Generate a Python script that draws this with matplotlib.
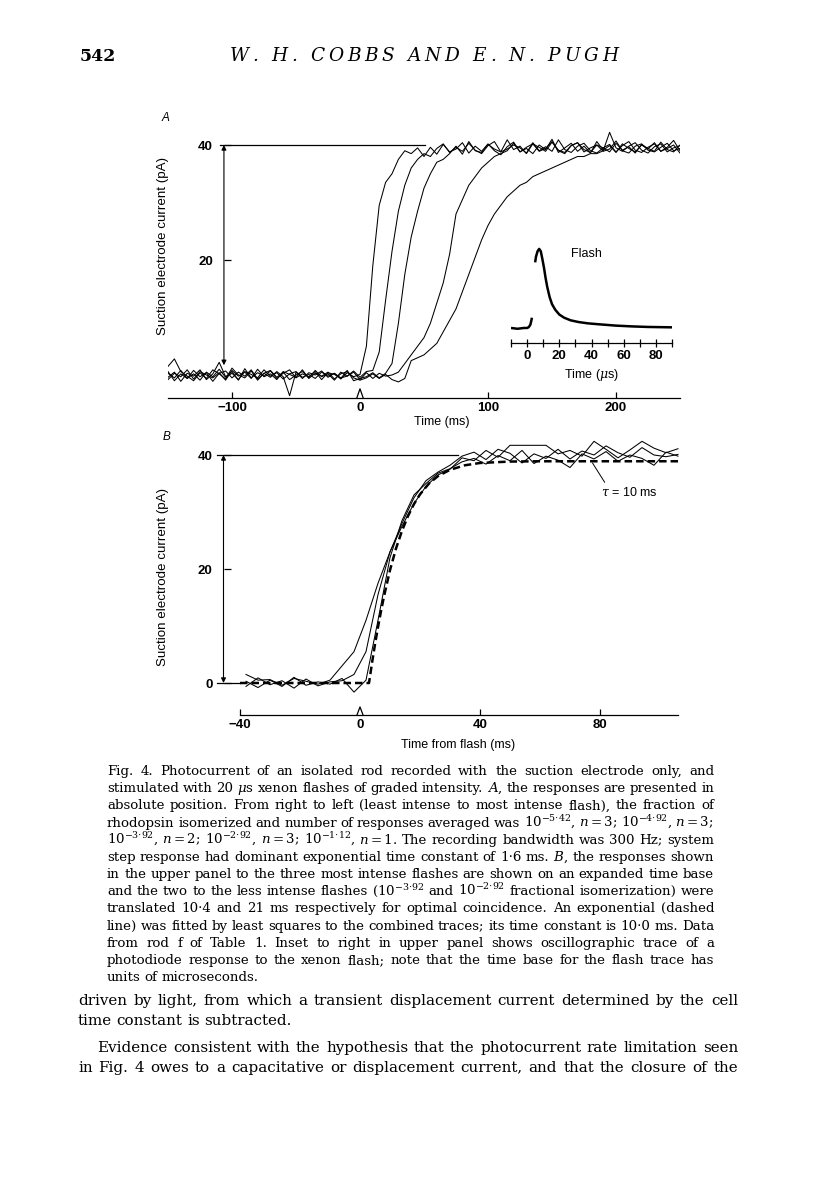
import numpy as np
import matplotlib
matplotlib.use("Agg")
import matplotlib.pyplot as plt
from matplotlib.transforms import IdentityTransform

W, H = 816, 1181
SANS = ["Liberation Sans", "DejaVu Sans"]
SERIF = ["DejaVu Serif"]
plt.rcParams["font.family"] = SANS
plt.rcParams["mathtext.fontset"] = "dejavuserif"

# ---- panel A: five flash responses, sampled every 5 ms from -150 ms ----
a_t0, a_dt = -150, 5
trace_a1 = [0.3, -0.5, 0.8, -0.6, 0.2, -0.9, 0.5, -0.3, 1.0, -0.4, 0.3, -0.8, 0.6, 0.1, -0.5, 0.9,
            -0.2, 0.4, -0.7, 0.2, 0.6, -0.4, 0.1, -0.6, 0.5, -0.2, 0.3, -0.7, 0.4, -0.3, 0.1,
            5.0, 19.0, 29.5, 33.5, 35.0, 37.5, 39.0, 38.5, 39.5, 38.0, 39.6, 38.4, 40.1, 38.8, 39.3,
            40.4, 38.6, 39.8, 38.9, 40.2, 39.0, 38.3, 39.7, 40.5, 38.8, 39.4, 38.5, 40.0, 39.2, 41.0,
            38.7, 39.5, 40.3, 38.9, 39.8, 38.6, 40.6, 39.1, 39.9, 38.7, 40.2, 39.4, 38.8, 40.0, 39.3,
            40.4, 38.9, 39.6, 40.8, 39.0]
trace_a2 = [1.5, 2.8, 0.6, -0.2, -1.0, 0.4, -0.6, 0.9, 0.2, -0.7, 1.2, 0.0, -0.5, 0.7, -0.9, 0.3,
            0.8, -0.4, 0.5, -0.8, 0.0, 0.6, -0.5, 0.8, -0.3, 0.2, -0.9, 0.5, -0.2, 0.7, -0.4,
            0.6, 0.8, 4.0, 13.0, 21.5, 28.5, 33.0, 36.0, 37.5, 38.5, 38.0, 39.4, 40.2, 38.7, 39.6,
            38.9, 40.3, 39.1, 38.5, 39.9, 40.6, 38.8, 39.3, 40.0, 39.5, 38.6, 40.4, 39.0, 39.7, 38.9,
            40.9, 39.2, 38.7, 39.8, 40.3, 39.0, 38.6, 39.5, 40.1, 38.8, 39.9, 40.6, 39.1, 38.7, 39.6,
            40.2, 38.9, 39.4, 40.0, 38.6]
trace_a3 = [-0.4, 0.5, -1.1, 0.3, -0.2, 0.9, -0.8, 0.2, 2.2, -0.3, 0.6, -0.9, 1.1, -0.5, 0.4, -0.2,
            0.7, -0.6, 0.3, 0.9, -0.5, 0.2, -0.3, 0.6, -0.8, 0.4, 0.1, -0.6, 0.8, -1.0, -0.6,
            -0.3, 0.4, -0.5, 0.3, 2.0, 9.0, 17.5, 24.0, 28.5, 32.5, 35.0, 37.0, 37.5, 38.5, 39.8,
            38.4, 40.6, 39.0, 38.7, 40.1, 39.3, 38.8, 40.9, 39.2, 39.8, 38.5, 40.2, 39.6, 38.9, 40.5,
            39.1, 38.7, 39.9, 40.4, 38.8, 39.5, 40.0, 38.9, 39.3, 40.7, 39.0, 38.6, 39.8, 40.2, 39.1,
            38.8, 39.6, 40.3, 39.0, 39.4]
trace_a4 = [0.6, -1.0, 0.2, -0.6, 0.8, -0.3, 0.4, -1.1, 0.3, 0.7, -0.5, 0.5, -0.2, 0.9, -0.7, 0.3,
            -0.4, 0.6, -0.3, -3.6, 0.5, -0.6, 0.4, 0.0, 0.7, -0.4, 0.3, -0.5, -0.2, 0.5, -0.8,
            0.4, -0.6, 0.3, -0.2, 0.0, 0.5, 2.0, 3.5, 5.0, 6.5, 9.0, 12.5, 16.0, 21.0, 28.0,
            30.5, 33.0, 34.5, 36.0, 37.0, 38.0, 38.5, 39.0, 40.3, 38.8, 39.6, 40.2, 38.9, 39.4, 40.6,
            39.0, 38.5, 39.9, 40.4, 39.2, 38.7, 40.0, 39.5, 38.8, 40.3, 39.1, 39.7, 38.6, 40.1, 39.4,
            38.9, 40.5, 39.2, 38.8, 40.0]
trace_a5 = [-0.8, 0.3, -0.3, 0.9, -0.7, 0.6, 0.0, -0.5, 0.4, -0.9, 0.8, -0.2, 0.5, -0.6, 1.0, -0.3,
            0.2, -0.8, 0.6, 0.1, -0.4, 0.9, -0.6, 0.3, -0.2, 0.5, -0.7, 0.2, 0.6, -0.5, -0.9,
            -0.5, 0.2, -0.6, 0.1, -0.8, -1.2, -0.6, 2.5, 3.0, 3.5, 4.5, 5.5, 7.5, 9.5, 11.5,
            14.5, 17.5, 20.5, 23.5, 26.0, 28.0, 29.5, 31.0, 32.0, 33.0, 33.5, 34.5, 35.0, 35.5, 36.0,
            36.5, 37.0, 37.5, 38.0, 38.0, 38.5, 38.5, 39.0, 42.2, 39.5, 38.9, 39.8, 40.4, 39.1, 38.6,
            39.7, 40.2, 38.8, 39.5, 39.9]

# ---- inset: photodiode flash trace (time in microseconds, arbitrary units) ----
flash_pre_t = [-10, -6, -2, 0, 1, 2, 2.6, 3.0]
flash_pre_y = [0.0, -0.01, 0.0, 0.0, 0.01, 0.04, 0.09, 0.13]
flash_t = [5.0, 5.5, 6.5, 7.5, 8.5, 9.5, 10.5, 11.5, 12.5, 14, 15.5, 17.5, 20, 23, 27, 32, 38, 45,
           55, 65, 75, 90]
flash_y = [0.83, 0.9, 0.97, 1.0, 0.97, 0.87, 0.76, 0.63, 0.52, 0.39, 0.3, 0.23, 0.17, 0.13, 0.097,
           0.075, 0.058, 0.046, 0.03, 0.02, 0.013, 0.008]

# ---- panel B: three aligned responses every 4 ms from -38 ms, plus fitted exponential ----
b_t0, b_dt = -38, 4
trace_b1 = [1.5, 0.5, 0.6, -0.4, 0.8, 0.3, -0.2, 0.5, 3.0, 5.5, 11.0, 17.5, 23.0, 27.5, 31.5, 34.5,
            36.5, 37.5, 39.5, 39.0, 40.8, 39.6, 41.7, 41.7, 41.7, 41.7, 40.2, 40.8, 39.8, 42.4, 41.0,
            39.5, 40.9, 42.4, 41.2, 40.4, 41.1]
trace_b2 = [-0.6, 0.9, -0.3, 0.4, -0.9, 0.7, -0.5, 0.2, 0.4, 1.5, 5.5, 15.5, 23.0, 28.0, 32.5, 35.5,
            37.0, 38.2, 39.8, 40.5, 39.2, 41.0, 40.3, 38.6, 40.2, 39.4, 41.0, 39.3, 40.7, 40.0, 41.6,
            40.4, 39.6, 41.3, 40.0, 39.7, 40.1]
trace_b3 = [0.3, -0.8, 0.5, -0.6, 1.0, -0.4, 0.2, -0.2, 0.8, -1.6, 0.5, 11.0, 22.0, 28.5, 33.0, 35.0,
            36.8, 37.6, 38.8, 39.4, 38.4, 39.9, 39.0, 40.8, 38.5, 39.8, 39.1, 37.8, 40.2, 39.3, 40.6,
            38.9, 40.0, 39.4, 38.2, 40.5, 39.8]
fit_t = [-40, 3, 4, 5, 6, 7, 8, 10, 12, 14, 16, 18, 20, 23, 26, 30, 35, 40, 50, 60, 106]
fit_y = [0, 0, 3.5, 6.8, 9.8, 12.6, 15.2, 19.8, 23.6, 26.7, 29.3, 31.4, 33.1, 35.0, 36.3, 37.4,
         38.2, 38.6, 38.85, 38.9, 38.9]

header_num = "542"
header_authors = "W. H. COBBS AND E. N. PUGH"
caption_lines = [
    "Fig. 4. Photocurrent of an isolated rod recorded with the suction electrode only, and",
    "stimulated with 20 $\\mu$s xenon flashes of graded intensity. $A$, the responses are presented in",
    "absolute position. From right to left (least intense to most intense flash), the fraction of",
    "rhodopsin isomerized and number of responses averaged was $10^{-5{\\cdot}42}$, $n=3$; "
    "$10^{-4{\\cdot}92}$, $n=3$;",
    "$10^{-3{\\cdot}92}$, $n=2$; $10^{-2{\\cdot}92}$, $n=3$; $10^{-1{\\cdot}12}$, $n=1$. The recording "
    "bandwidth was 300 Hz; system",
    "step response had dominant exponential time constant of 1·6 ms. $B$, the responses shown",
    "in the upper panel to the three most intense flashes are shown on an expanded time base",
    "and the two to the less intense flashes ($10^{-3{\\cdot}92}$ and $10^{-2{\\cdot}92}$ fractional "
    "isomerization) were",
    "translated 10·4 and 21 ms respectively for optimal coincidence. An exponential (dashed",
    "line) was fitted by least squares to the combined traces; its time constant is 10·0 ms. Data",
    "from rod f of Table 1. Inset to right in upper panel shows oscillographic trace of a",
    "photodiode response to the xenon flash; note that the time base for the flash trace has",
    "units of microseconds.",
]
body_lines = [
    "driven by light, from which a transient displacement current determined by the cell",
    "time constant is subtracted.",
    "Evidence consistent with the hypothesis that the photocurrent rate limitation seen",
    "in Fig. 4 owes to a capacitative or displacement current, and that the closure of the",
]

fig = plt.figure(figsize=(W / 100, H / 100), dpi=100)
renderer = fig.canvas.get_renderer()


def px_axes(x0, y0, x1, y1):
    """Axes from an image-pixel box (origin top-left)."""
    return fig.add_axes([x0 / W, 1 - y1 / H, (x1 - x0) / W, (y1 - y0) / H])


def px_text(x, y, s, **kw):
    return fig.text(x / W, 1 - y / H, s, **kw)


def place_pieces(pieces, x0, x1, y, size, stretch, **kw):
    """Lay pieces of text left to right on baseline y, spreading the slack evenly."""
    arts = [fig.text(0, 0, p, transform=IdentityTransform(), fontsize=size,
                     family=SERIF, va="baseline", **kw) for p in pieces]
    widths = [a.get_window_extent(renderer).width if p.strip() else size * 100 / 72 * 0.3
              for a, p in zip(arts, pieces)]
    gap = stretch
    if stretch is None and len(pieces) > 1:
        gap = max((x1 - x0 - sum(widths)) / (len(pieces) - 1), 0.5 * size * 100 / 72 * 0.3)
    x = x0
    for a, w in zip(arts, widths):
        a.set_position((x, H - y))
        x += w + gap


def text_line(s, x0, x1, y, size, justify=True, **kw):
    """One line of page text; justified lines are spread across x0..x1."""
    stretch = None if justify else size * 100 / 72 * 0.3
    place_pieces(s.split(" "), x0, x1, y, size, stretch, **kw)


def style_axes(ax, ybase, xleft):
    for s in ("top", "right"):
        ax.spines[s].set_visible(False)
    ax.spines["left"].set_position(("data", xleft))
    ax.spines["left"].set_visible(False)
    ax.spines["bottom"].set_position(("data", ybase))
    ax.spines["bottom"].set_linewidth(0.9)
    ax.tick_params(axis="x", direction="in", length=4, width=0.9, pad=3, labelsize=9.5)
    ax.tick_params(axis="y", direction="in", length=5, width=0.9, pad=8, labelsize=9.5)
    ax.patch.set_visible(False)


# ---- Panel A ----
axA = px_axes(168, 122, 680, 403.75)
for tr in (trace_a1, trace_a2, trace_a3, trace_a4, trace_a5):
    axA.plot(a_t0 + a_dt * np.arange(len(tr)), tr, color="k", lw=0.75)
axA.set_xlim(-150, 250)
axA.set_ylim(-5, 44)
style_axes(axA, -4, -106.3)
axA.set_xticks([-100, 0, 100, 200])
axA.set_yticks([20, 40])
axA.xaxis.get_major_ticks()[1].tick1line.set_visible(False)
plt.setp(axA.get_xticklabels() + axA.get_yticklabels(), fontweight="bold")
axA.plot([-109.4, 51], [40, 40], color="k", lw=0.9)
axA.plot([-2.5, 0, 2.5], [-4, -2.4, -4], color="k", lw=0.9)
axA.annotate("", xy=(-106.3, 40), xytext=(-106.3, 1.7),
             arrowprops=dict(arrowstyle="<|-|>", lw=0.8, color="k", mutation_scale=7,
                             shrinkA=0, shrinkB=0))
px_text(442, 422, "Time (ms)", ha="center", va="center", fontsize=9)
px_text(163, 246, "Suction electrode current (pA)", rotation=90, ha="center", va="center",
        fontsize=9.6)
px_text(166, 118, "A", ha="center", va="center", fontsize=8.5, style="italic")

# ---- Inset ----
axI = px_axes(511, 241, 672, 343)
axI.plot(flash_pre_t, flash_pre_y, color="k", lw=1.8, solid_capstyle="butt")
axI.plot(flash_t, flash_y, color="k", lw=1.8, solid_capstyle="butt")
axI.set_xlim(-10, 90)
axI.set_ylim(-0.19, 1.1)
for s in ("top", "right", "left"):
    axI.spines[s].set_visible(False)
axI.spines["bottom"].set_linewidth(0.9)
inset_ticks = list(range(-10, 91, 10))
axI.set_xticks(inset_ticks, [str(v) if v % 20 == 0 else "" for v in inset_ticks])
axI.set_yticks([])
axI.tick_params(axis="x", direction="inout", length=6, width=0.9, pad=2, labelsize=9.5)
plt.setp(axI.get_xticklabels(), fontweight="bold")
axI.patch.set_visible(False)
px_text(592, 375, "Time ($\\mu$s)", ha="center", va="center", fontsize=9)
px_text(586, 254, "Flash", ha="center", va="center", fontsize=9)

# ---- Panel B ----
axB = px_axes(216, 432.2, 681, 717.2)
for tr in (trace_b1, trace_b2, trace_b3):
    axB.plot(b_t0 + b_dt * np.arange(len(tr)), tr, color="k", lw=0.75)
axB.plot(fit_t, fit_y, color="k", lw=1.8, dashes=(3, 1.6))
axB.set_xlim(-48, 107)
axB.set_ylim(-6, 44)
style_axes(axB, -5.6, -45.5)
axB.spines["bottom"].set_bounds(-40, 106)
axB.set_xticks([-40, 0, 40, 80])
axB.set_yticks([0, 20, 40])
axB.xaxis.get_major_ticks()[1].tick1line.set_visible(False)
plt.setp(axB.get_xticklabels() + axB.get_yticklabels(), fontweight="bold")
axB.plot([-47.7, 32.7], [40, 40], color="k", lw=0.9)
axB.plot([-47.7, -40], [0, 0], color="k", lw=0.9)
axB.plot([-1, 0, 1], [-5.6, -4.2, -5.6], color="k", lw=0.9)
axB.annotate("", xy=(-45.5, 40), xytext=(-45.5, 0),
             arrowprops=dict(arrowstyle="<|-|>", lw=0.8, color="k", mutation_scale=7,
                             shrinkA=0, shrinkB=0))
axB.annotate("$\\tau$ = 10 ms", xy=(77.5, 38.6), xytext=(80.5, 33.4), ha="left", va="center",
             fontsize=9, arrowprops=dict(arrowstyle="-", lw=0.7, color="k",
                                         shrinkA=1, shrinkB=0, relpos=(0.1, 1.0)))
px_text(458, 745, "Time from flash (ms)", ha="center", va="center", fontsize=9)
px_text(163, 577, "Suction electrode current (pA)", rotation=90, ha="center", va="center",
        fontsize=9.6)
px_text(167, 437, "B", ha="center", va="center", fontsize=8.5, style="italic")

# ---- page text ----
fig.text(80, H - 61, header_num, transform=IdentityTransform(), fontsize=12.5,
         family=SERIF, fontweight="bold", va="baseline")
place_pieces(list(header_authors), 230, 618, 61, 13.3, None, style="italic")
for k, line in enumerate(caption_lines):
    text_line(line, 107, 714, 775 + 17.17 * k, 9.6, justify=k < len(caption_lines) - 1)
body_y = [1005, 1025, 1052, 1072]
for k, line in enumerate(body_lines):
    x0 = 97 if k == 2 else 78
    text_line(line, x0, 738, body_y[k], 10.9, justify=k != 1)

fig.savefig("out.png", dpi=100)
